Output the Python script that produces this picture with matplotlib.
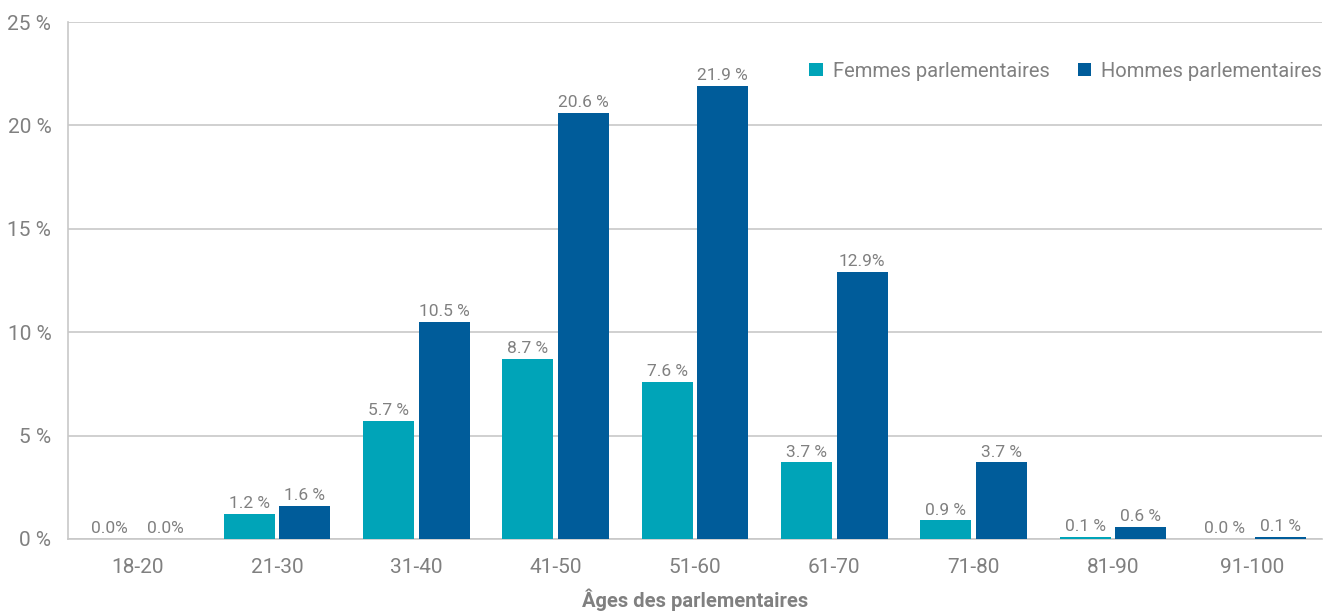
import matplotlib
matplotlib.use("Agg")
from matplotlib import pyplot as plt
import numpy as np

plt.rcParams["font.family"] = ["Roboto", "DejaVu Sans"]

# age groups and shares of parliamentarians (%)
ageGroups = ["18-20", "21-30", "31-40", "41-50", "51-60", "61-70", "71-80", "81-90", "91-100"]
femmes = [0.0, 1.2, 5.7, 8.7, 7.6, 3.7, 0.9, 0.1, 0.0]
hommes = [0.0, 1.6, 10.5, 20.6, 21.9, 12.9, 3.7, 0.6, 0.1]
femmesLabels = ["0.0%", "1.2 %", "5.7 %", "8.7 %", "7.6 %", "3.7 %", "0.9 %", "0.1 %", "0.0 %"]
hommesLabels = ["0.0%", "1.6 %", "10.5 %", "20.6 %", "21.9 %", "12.9%", "3.7 %", "0.6 %", "0.1 %"]
yTicks = [0, 5, 10, 15, 20, 25]

femmeColor = "#00a4b8"
hommeColor = "#005c9a"
textColor = "#808080"
gridColor = "#c8c8c8"

fig = plt.figure(figsize=(13.29, 6.13), dpi=100)
ax = fig.add_axes([68/1329, 1 - 539/613, (1322-68)/1329, (539-22)/613])

x = np.arange(len(ageGroups))
w = 0.366
off = 0.2
ax.bar(x - off, femmes, w, color=femmeColor, label="Femmes parlementaires", zorder=3)
ax.bar(x + off, hommes, w, color=hommeColor, label="Hommes parlementaires", zorder=3)

for i in range(len(ageGroups)):
  ax.annotate(femmesLabels[i], (x[i] - off, femmes[i]), xytext=(0, 2), textcoords="offset points",
              ha="center", va="bottom", fontsize=12.5, color=textColor)
  ax.annotate(hommesLabels[i], (x[i] + off, hommes[i]), xytext=(0, 2), textcoords="offset points",
              ha="center", va="bottom", fontsize=12.5, color=textColor)

ax.set_xlim(-0.5, len(ageGroups) - 0.5)
ax.set_ylim(0, 25)
ax.set_yticks(yTicks)
ax.set_yticklabels([f"{t} %" for t in yTicks])
ax.set_xticks(x)
ax.set_xticklabels(ageGroups)
ax.tick_params(axis="both", length=0, labelsize=15, labelcolor=textColor)
ax.tick_params(axis="y", pad=12)
ax.tick_params(axis="x", pad=14)
ax.yaxis.grid(True, color=gridColor, linewidth=1.2, zorder=0)
ax.set_axisbelow(True)
for s in ["top", "right"]:
  ax.spines[s].set_visible(False)
ax.spines["left"].set_color(gridColor)
ax.spines["bottom"].set_color(gridColor)
ax.spines["left"].set_linewidth(1.2)
ax.spines["bottom"].set_linewidth(1.2)

# axis title sits right at the bottom edge of the figure
fig.text(695/1329, 2/613, "Âges des parlementaires", ha="center", va="bottom",
         fontsize=14.5, fontweight="bold", color=textColor)

leg = ax.legend(loc="center right", bbox_to_anchor=(1.006, 0.905), ncol=2, frameon=False,
                fontsize=14.5, handlelength=0.65, handleheight=0.65, handletextpad=0.5,
                columnspacing=1.4, labelcolor=textColor, borderaxespad=0)

fig.savefig("out.png", dpi=100)
